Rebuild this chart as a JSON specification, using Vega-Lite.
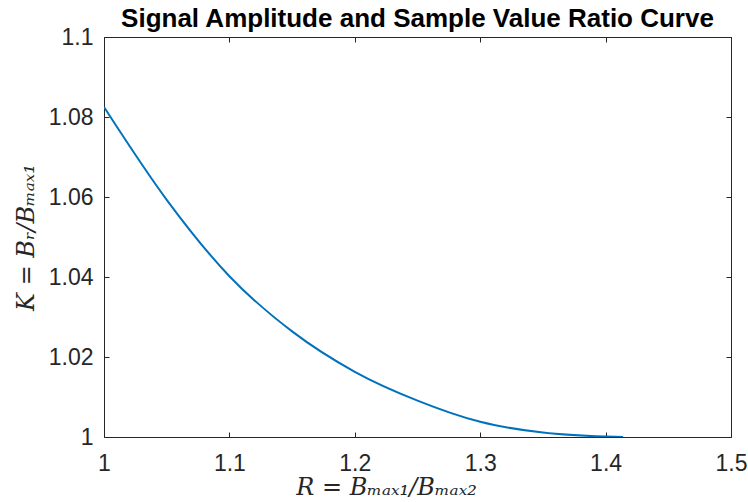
{
  "$schema": "https://vega.github.io/schema/vega-lite/v6.json",
  "width": 627,
  "height": 400,
  "autosize": {"type": "none"},
  "padding": {"left": 104, "top": 37, "right": 17, "bottom": 65},
  "background": "white",
  "config": {
    "view": {"stroke": null},
    "axis": {
      "grid": false,
      "domainColor": "#262626",
      "domainWidth": 1,
      "tickColor": "#262626",
      "tickSize": -5,
      "tickWidth": 1,
      "labelFont": "Liberation Sans",
      "labelFontSize": 23,
      "labelColor": "#262626",
      "titleFont": "DejaVu Serif",
      "titleFontStyle": "italic",
      "titleFontWeight": "normal",
      "titleFontSize": 24,
      "titleColor": "#262626"
    }
  },
  "title": {
    "text": "Signal Amplitude and Sample Value Ratio Curve",
    "font": "Liberation Sans",
    "fontSize": 26,
    "fontWeight": "bold",
    "color": "#000000",
    "offset": -6,
    "anchor": "middle"
  },
  "data": {
    "values": [
      {"R": 1.000, "K": 1.0825},
      {"R": 1.050, "K": 1.0593},
      {"R": 1.100, "K": 1.0402},
      {"R": 1.150, "K": 1.0264},
      {"R": 1.200, "K": 1.0163},
      {"R": 1.250, "K": 1.0091},
      {"R": 1.300, "K": 1.0038},
      {"R": 1.350, "K": 1.0011},
      {"R": 1.400, "K": 1.0001},
      {"R": 1.414, "K": 1.0000}
    ]
  },
  "layer": [
    {
      "mark": {"type": "line", "color": "#0072BD", "strokeWidth": 2, "interpolate": "monotone", "clip": true},
      "encoding": {
        "x": {
          "field": "R", "type": "quantitative",
          "scale": {"domain": [1, 1.5], "nice": false, "zero": false},
          "axis": {
            "orient": "bottom",
            "values": [1, 1.1, 1.2, 1.3, 1.4, 1.5],
            "format": "~g",
            "labelPadding": 20,
            "labelFlush": false,
            "title": "R = Bₘₐₓ₁/Bₘₐₓ₂",
            "titlePadding": 0,
            "titleX": 282
          }
        },
        "y": {
          "field": "K", "type": "quantitative",
          "scale": {"domain": [1, 1.1], "nice": false, "zero": false},
          "axis": {
            "orient": "left",
            "values": [1, 1.02, 1.04, 1.06, 1.08, 1.1],
            "format": "~g",
            "labelPadding": 16,
            "labelFlush": false,
            "title": "K = Bᵣ/Bₘₐₓ₁",
            "titlePadding": 10
          }
        }
      }
    },
    {
      "mark": {"type": "line", "strokeOpacity": 0},
      "encoding": {
        "x": {
          "field": "R", "type": "quantitative",
          "scale": {"domain": [1, 1.5], "nice": false, "zero": false},
          "axis": {"orient": "top", "values": [1, 1.1, 1.2, 1.3, 1.4, 1.5], "labels": false, "title": null}
        },
        "y": {
          "field": "K", "type": "quantitative",
          "scale": {"domain": [1, 1.1], "nice": false, "zero": false},
          "axis": {"orient": "right", "values": [1, 1.02, 1.04, 1.06, 1.08, 1.1], "labels": false, "title": null}
        }
      }
    }
  ],
  "resolve": {"axis": {"x": "independent", "y": "independent"}}
}
